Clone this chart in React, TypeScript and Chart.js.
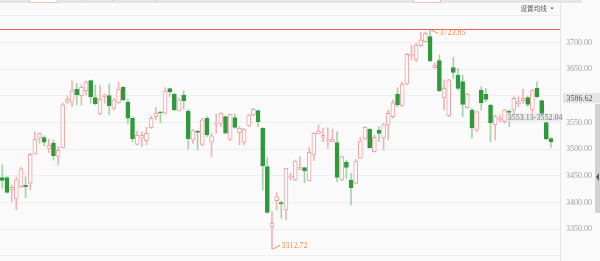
import React, { useEffect, useRef } from "react";
import { Chart, registerables } from "chart.js";

Chart.register(...registerables);

// ---- data ----
const OPEN = [
  3446.8, 3446.8, 3423.7, 3406.8, 3430.0, 3432.4, 3436.2, 3490.6, 3520.6, 3521.8,
  3501.8, 3511.8, 3486.8, 3503.1, 3588.1, 3588.1, 3612.5, 3600.6, 3610.0, 3628.7,
  3596.8, 3566.2, 3598.7, 3600.6, 3576.8, 3587.4, 3616.2, 3588.7, 3558.1, 3509.3,
  3520.6, 3516.2, 3540.6, 3561.2, 3570.0, 3567.5, 3613.7, 3603.1, 3572.5, 3601.8,
  3571.8, 3517.5, 3534.3, 3509.3, 3558.1, 3513.1, 3546.8, 3548.7, 3561.2, 3518.7,
  3559.3, 3531.2, 3513.1, 3543.7, 3564.3, 3572.5, 3539.3, 3467.5, 3354.9, 3403.7,
  3400.0, 3386.2, 3447.4, 3442.4, 3462.4, 3465.5, 3441.1, 3489.3, 3528.6, 3522.4,
  3516.1, 3514.3, 3512.4, 3442.4, 3475.5, 3442.4, 3436.1, 3483.0, 3519.3, 3537.4,
  3495.5, 3535.5, 3520.6, 3545.6, 3561.2, 3603.7, 3581.2, 3622.5, 3675.0, 3667.5,
  3694.3, 3701.8, 3711.2, 3653.1, 3666.2, 3596.8, 3563.1, 3653.1, 3639.3, 3626.8,
  3578.1, 3573.7, 3536.0, 3611.2, 3603.0, 3583.0, 3545.5, 3554.9, 3551.8, 3571.8,
  3573.6, 3584.9, 3591.1, 3596.8, 3573.6, 3614.3, 3591.1, 3549.9, 3519.9,
];
const HIGH = [
  3470.6, 3448.7, 3433.1, 3447.5, 3466.2, 3448.7, 3492.5, 3532.4, 3530.0, 3525.0,
  3518.7, 3517.4, 3505.0, 3586.2, 3600.0, 3628.1, 3623.7, 3620.6, 3628.1, 3630.0,
  3620.6, 3620.6, 3603.7, 3622.5, 3595.6, 3625.6, 3617.5, 3593.7, 3561.2, 3534.3,
  3533.1, 3541.2, 3561.2, 3578.7, 3570.0, 3615.6, 3614.3, 3605.0, 3595.6, 3610.0,
  3575.0, 3537.5, 3536.2, 3558.1, 3561.2, 3530.0, 3566.2, 3568.7, 3562.5, 3566.2,
  3566.2, 3542.5, 3538.7, 3565.6, 3576.8, 3573.7, 3540.6, 3484.3, 3383.1, 3418.7,
  3403.0, 3464.4, 3454.9, 3479.9, 3486.1, 3465.5, 3503.6, 3531.1, 3545.5, 3539.3,
  3540.5, 3537.4, 3533.0, 3487.4, 3479.9, 3454.9, 3481.1, 3522.4, 3542.4, 3539.3,
  3526.8, 3542.4, 3548.7, 3573.7, 3592.5, 3615.6, 3625.6, 3680.0, 3695.6, 3698.7,
  3720.0, 3720.0, 3723.85, 3662.5, 3676.8, 3630.0, 3631.2, 3672.5, 3651.8, 3639.3,
  3605.0, 3576.8, 3572.0, 3617.4, 3614.3, 3584.3, 3564.3, 3564.3, 3574.9, 3573.6,
  3598.6, 3598.6, 3612.4, 3599.9, 3612.4, 3626.8, 3592.4, 3551.8, 3522.4,
];
const LOW = [
  3426.8, 3417.5, 3401.8, 3386.2, 3428.1, 3409.3, 3423.7, 3490.6, 3511.2, 3506.2,
  3493.7, 3480.0, 3470.6, 3503.1, 3586.2, 3580.0, 3583.1, 3583.1, 3601.8, 3586.2,
  3583.1, 3564.3, 3586.2, 3564.3, 3573.7, 3586.2, 3591.2, 3548.7, 3514.3, 3508.1,
  3505.0, 3508.1, 3539.3, 3555.0, 3550.0, 3566.2, 3598.7, 3572.5, 3571.8, 3575.0,
  3500.0, 3511.2, 3498.7, 3506.2, 3523.7, 3486.2, 3530.0, 3542.5, 3528.7, 3516.2,
  3539.3, 3508.1, 3508.1, 3542.5, 3562.5, 3542.5, 3423.7, 3380.0, 3312.72, 3386.2,
  3370.6, 3367.4, 3442.4, 3441.1, 3461.2, 3437.4, 3441.1, 3478.6, 3528.6, 3514.3,
  3501.8, 3514.3, 3439.3, 3441.1, 3445.5, 3395.5, 3434.9, 3483.0, 3517.4, 3501.8,
  3494.3, 3514.3, 3498.7, 3517.5, 3558.1, 3580.0, 3580.0, 3620.6, 3667.5, 3664.3,
  3692.5, 3700.6, 3664.3, 3651.8, 3608.1, 3573.7, 3561.2, 3633.1, 3611.2, 3561.2,
  3576.8, 3520.6, 3533.0, 3573.6, 3589.3, 3514.3, 3517.4, 3551.8, 3548.6, 3542.4,
  3567.4, 3579.9, 3586.1, 3579.9, 3567.4, 3597.4, 3561.1, 3517.4, 3503.6,
];
const CLOSE = [
  3441.8, 3419.3, 3428.7, 3442.5, 3463.1, 3430.0, 3490.6, 3518.7, 3530.0, 3513.1,
  3507.5, 3488.1, 3498.1, 3583.1, 3593.7, 3610.0, 3602.5, 3616.2, 3626.2, 3598.7,
  3585.6, 3593.7, 3601.8, 3581.8, 3592.5, 3612.5, 3592.5, 3558.1, 3519.3, 3526.2,
  3526.2, 3530.0, 3558.1, 3567.5, 3568.1, 3609.3, 3608.1, 3573.7, 3592.5, 3591.2,
  3520.0, 3535.0, 3531.8, 3555.0, 3526.8, 3525.0, 3548.7, 3567.5, 3530.0, 3565.6,
  3541.2, 3539.3, 3537.5, 3564.3, 3575.0, 3551.8, 3468.7, 3381.8, 3361.2, 3411.2,
  3397.5, 3464.4, 3448.0, 3478.0, 3466.8, 3459.3, 3494.3, 3529.9, 3534.3, 3526.1,
  3517.0, 3518.6, 3447.4, 3486.1, 3466.1, 3428.0, 3478.0, 3515.5, 3541.1, 3503.0,
  3522.4, 3529.9, 3545.6, 3567.5, 3587.5, 3583.1, 3622.5, 3678.1, 3678.1, 3695.6,
  3705.0, 3717.5, 3665.6, 3658.1, 3610.0, 3614.3, 3630.0, 3644.3, 3614.3, 3584.3,
  3603.1, 3540.0, 3570.0, 3587.4, 3593.6, 3549.9, 3562.4, 3558.0, 3573.6, 3569.3,
  3595.5, 3589.3, 3595.5, 3584.3, 3611.2, 3598.6, 3564.3, 3519.3, 3514.3,
];

const GRID_VALUES = [3300, 3350, 3400, 3450, 3500, 3550, 3600, 3650, 3700, 3750];
const LABELED_VALUES = [3350, 3400, 3450, 3500, 3550, 3650, 3700];
const LAST_PRICE = 3586.62;
const RANGE_TEXT = "3553.13-3552.04";
const RANGE_VALUE = 3553.13;
const RANGE_AT = 108.5;
const MENU_TEXT = "设置均线";

const BG = "#fafafa";
const UP_LINE = "#f2a3a3";
const UP_WICK = "#f4b3b3";
const DOWN_FILL = "#2f9a3c";
const DOWN_WICK = "#a6d3a6";
const MARK = "#f08c50";
const SERIF = "'Liberation Serif', 'DejaVu Serif', serif";

const overlay = {
  id: "overlay",
  afterDraw(chart: any) {
    const ctx = chart.ctx as CanvasRenderingContext2D;
    const xs = chart.scales.x;
    const ys = chart.scales.y;
    const area = chart.chartArea;
    ctx.save();

    // top toolbar remnant
    ctx.fillStyle = "#e6e6e6";
    ctx.fillRect(0, 0, 582, 3);
    ctx.fillStyle = "#ffffff";
    ctx.fillRect(29, 0, 29, 2.5);
    ctx.fillRect(413, 0, 28, 2.5);
    ctx.strokeStyle = "#f3c1b2";
    ctx.lineWidth = 1;
    ctx.strokeRect(29.5, -1, 28, 3.5);
    ctx.strokeRect(413.5, -1, 27, 3.5);
    ctx.fillStyle = "#d6d6d6";
    [85, 113, 155].forEach((x) => ctx.fillRect(x, 0, 1, 3));

    // highest / lowest marks
    let hi = 0;
    let lo = 0;
    HIGH.forEach((v, i) => { if (v > HIGH[hi]) hi = i; });
    LOW.forEach((v, i) => { if (v < LOW[lo]) lo = i; });
    const hx = xs.getPixelForValue(hi);
    const hy = ys.getPixelForValue(HIGH[hi]);
    const lx = xs.getPixelForValue(lo);
    const ly = ys.getPixelForValue(LOW[lo]);

    ctx.strokeStyle = "#ee5c5c";
    ctx.lineWidth = 1;
    ctx.beginPath();
    ctx.moveTo(0, Math.round(hy) - 0.5);
    ctx.lineTo(area.right, Math.round(hy) - 0.5);
    ctx.stroke();

    ctx.strokeStyle = MARK;
    ctx.beginPath();
    ctx.moveTo(hx + 1, hy);
    ctx.lineTo(hx + 8, hy + 3.5);
    ctx.moveTo(lx + 1, ly);
    ctx.lineTo(lx + 8, ly - 4);
    ctx.stroke();

    ctx.font = `8px ${SERIF}`;
    ctx.textBaseline = "middle";
    ctx.textAlign = "left";
    ctx.fillStyle = MARK;
    ctx.fillText(HIGH[hi].toFixed(2), hx + 9.5, hy + 2.8);
    ctx.fillText(LOW[lo].toFixed(2), lx + 9.5, ly - 3.5);

    // range label
    const ry = ys.getPixelForValue(RANGE_VALUE) - 3.5;
    const rx = xs.getPixelForValue(RANGE_AT);
    ctx.fillStyle = "rgba(232,232,232,0.85)";
    ctx.fillRect(rx, ry - 4, area.right + 1 - rx, 8);
    ctx.fillStyle = "#777";
    ctx.fillText(RANGE_TEXT, rx + 1, ry + 0.5);

    // last price box on the axis
    const py = ys.getPixelForValue(LAST_PRICE) - 5;
    ctx.fillStyle = "#e5e5e5";
    ctx.fillRect(area.right + 3, py - 5, 600 - area.right - 3, 10);
    ctx.fillStyle = "#555";
    ctx.fillText(LAST_PRICE.toFixed(2), area.right + 6.5, py + 0.5);

    // scrollbar
    ctx.fillStyle = "#d2d2d2";
    ctx.fillRect(595, 104, 5, 109);
    ctx.fillStyle = "#555";
    ctx.beginPath();
    ctx.moveTo(596, 177);
    ctx.lineTo(599, 173);
    ctx.lineTo(599, 181);
    ctx.closePath();
    ctx.fill();

    // menu
    ctx.fillStyle = "#555";
    ctx.font = "6.6px 'Noto Sans CJK SC', sans-serif";
    ctx.fillText(MENU_TEXT, 520.5, 8.5);
    ctx.beginPath();
    ctx.moveTo(550.5, 7.5);
    ctx.lineTo(553.5, 7.5);
    ctx.lineTo(552, 9.5);
    ctx.closePath();
    ctx.fill();

    ctx.restore();
  },
};

export default function App() {
  const ref = useRef<HTMLCanvasElement | null>(null);

  useEffect(() => {
    if (!ref.current) return;
    const up = CLOSE.map((c, i) => c >= OPEN[i]);
    const chart = new Chart(ref.current, {
      type: "bar",
      data: {
        datasets: [
          {
            label: "body",
            order: 0,
            data: OPEN.map((o, i) => ({ x: i, y: [Math.min(o, CLOSE[i]), Math.max(o, CLOSE[i])] })) as any,
            backgroundColor: up.map((u) => (u ? BG : DOWN_FILL)),
            borderColor: up.map((u) => (u ? UP_LINE : DOWN_FILL)),
            borderWidth: 1,
            borderSkipped: false,
            barThickness: 4,
            minBarLength: 1,
            grouped: false,
          } as any,
          {
            label: "wick",
            order: 1,
            data: LOW.map((l, i) => ({ x: i, y: [l, HIGH[i]] })) as any,
            backgroundColor: up.map((u) => (u ? UP_WICK : DOWN_WICK)),
            borderWidth: 0,
            barThickness: 1,
            grouped: false,
          } as any,
        ],
      },
      options: {
        animation: false,
        responsive: false,
        maintainAspectRatio: false,
        layout: { autoPadding: false, padding: { top: 4, left: 0, right: 0, bottom: 0 } },
        plugins: { legend: { display: false }, tooltip: { enabled: false } },
        scales: {
          x: {
            type: "linear",
            display: false,
            offset: false,
            grid: { offset: false },
            min: -0.5,
            max: 119.94,
          },
          y: {
            position: "right",
            min: 3290.5,
            max: 3772.4,
            afterFit: (s: any) => {
              s.width = 40;
              s.paddingTop = 0;
              s.paddingBottom = 0;
            },
            afterBuildTicks: (s: any) => { s.ticks = GRID_VALUES.map((v) => ({ value: v })); },
            grid: { color: "#eeeeee", drawTicks: false },
            border: { display: true, color: "#e4e4e4" },
            ticks: {
              padding: 6,
              color: "#a0a0a0",
              font: { family: SERIF, size: 8 },
              callback: (v: any) => (LABELED_VALUES.includes(Number(v)) ? Number(v).toFixed(2) : ""),
            },
          },
        },
      } as any,
      plugins: [overlay],
    });
    return () => chart.destroy();
  }, []);

  return (
    <div style={{ position: "fixed", left: 0, top: 0, width: 600, height: 261, background: BG }}>
      <canvas ref={ref} width={600} height={261} style={{ display: "block", width: 600, height: 261 }} />
    </div>
  );
}
